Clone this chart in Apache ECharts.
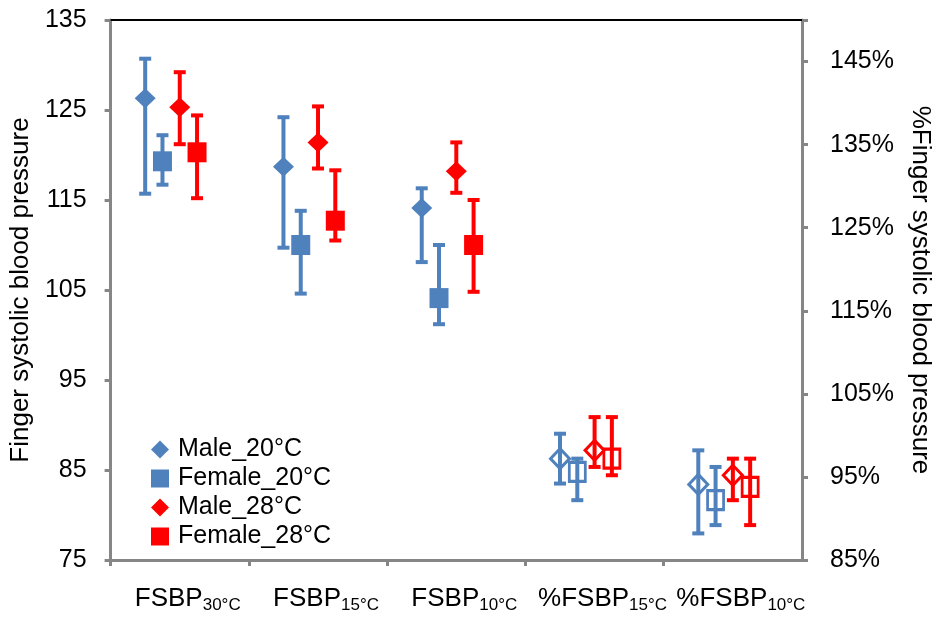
<!DOCTYPE html>
<html>
<head>
    <meta charset="utf-8">
    <title>Finger systolic blood pressure</title>
    <script src="https://cdn.jsdelivr.net/npm/echarts@6/dist/echarts.min.js"></script>
    <style>
        html, body { margin: 0; padding: 0; background: #fff; }
        #main { width: 941px; height: 620px; }
    </style>
</head>
<body>
<div id="main"></div>
<script>
    // categories: first three are mmHg (left axis), last two are % (right axis)
    var categories = ['FSBP|30°C', 'FSBP|15°C', 'FSBP|10°C', '%FSBP|15°C', '%FSBP|10°C'];
    var seriesNames = ['Male_20°C', 'Female_20°C', 'Male_28°C', 'Female_28°C'];

    // mean, lower end and upper end of error bar, per category
    var male20Mean = [126.3, 118.7, 114.1, 97.2, 94.1];
    var male20Low = [115.7, 109.7, 108.1, 94.2, 88.2];
    var male20High = [130.7, 124.2, 116.3, 100.2, 98.2];

    var female20Mean = [119.3, 110.0, 104.1, 95.6, 92.2];
    var female20Low = [116.7, 104.6, 101.2, 92.2, 89.2];
    var female20High = [122.2, 113.8, 110.0, 97.2, 96.2];

    var male28Mean = [125.3, 121.4, 118.2, 98.2, 95.2];
    var male28Low = [121.2, 118.5, 115.8, 96.2, 92.2];
    var male28High = [129.2, 125.4, 121.4, 102.2, 97.2];

    var female28Mean = [120.3, 112.7, 110.0, 97.2, 93.8];
    var female28Low = [115.2, 110.5, 104.8, 95.2, 89.2];
    var female28High = [124.4, 118.3, 115.0, 102.2, 97.2];

    var FONT = '"Liberation Sans", Arial, sans-serif';
    var BLUE = '#4F81BD';
    var RED = '#FF0000';
    var AXIS_GRAY = '#868686';

    var groups = [
        {name: seriesNames[0], mean: male20Mean, low: male20Low, high: male20High, color: BLUE, symbol: 'diamond', offset: -0.25},
        {name: seriesNames[1], mean: female20Mean, low: female20Low, high: female20High, color: BLUE, symbol: 'rect', offset: -0.125},
        {name: seriesNames[2], mean: male28Mean, low: male28Low, high: male28High, color: RED, symbol: 'diamond', offset: 0},
        {name: seriesNames[3], mean: female28Mean, low: female28Low, high: female28High, color: RED, symbol: 'rect', offset: 0.125}
    ];

    function errorBarItem(params, api) {
        var x = api.value(0);
        var lo = api.coord([x, api.value(1)]);
        var hi = api.coord([x, api.value(2)]);
        var w = 6;
        var style = {stroke: api.visual('color'), lineWidth: 4};
        return {
            type: 'group',
            children: [
                {type: 'line', shape: {x1: lo[0], y1: lo[1], x2: hi[0], y2: hi[1]}, style: style},
                {type: 'line', shape: {x1: hi[0] - w, y1: hi[1], x2: hi[0] + w, y2: hi[1]}, style: style},
                {type: 'line', shape: {x1: lo[0] - w, y1: lo[1], x2: lo[0] + w, y2: lo[1]}, style: style}
            ]
        };
    }

    var series = [];
    groups.forEach(function (g) {
        var absPts = [], absBars = [], pctPts = [], pctBars = [];
        for (var i = 0; i < categories.length; i++) {
            var x = i + 1 + g.offset;
            if (i < 3) {
                absPts.push([x, g.mean[i]]);
                absBars.push([x, g.low[i], g.high[i]]);
            } else {
                pctPts.push([x, g.mean[i]]);
                pctBars.push([x, g.low[i], g.high[i]]);
            }
        }
        series.push({
            name: g.name, type: 'custom', xAxisIndex: 1, yAxisIndex: 0,
            renderItem: errorBarItem, itemStyle: {color: g.color}, data: absBars, z: 2, silent: true
        });
        series.push({
            name: g.name, type: 'custom', xAxisIndex: 1, yAxisIndex: 1,
            renderItem: errorBarItem, itemStyle: {color: g.color}, data: pctBars, z: 2, silent: true
        });
        series.push({
            name: g.name, type: 'scatter', xAxisIndex: 1, yAxisIndex: 0,
            symbol: g.symbol, symbolSize: g.symbol === 'diamond' ? [21, 20] : [19, 20],
            itemStyle: {color: g.color, opacity: 1}, data: absPts, z: 3
        });
        series.push({
            name: g.name, type: 'scatter', xAxisIndex: 1, yAxisIndex: 1,
            symbol: g.symbol, symbolSize: g.symbol === 'diamond' ? [19, 20] : [16, 19],
            itemStyle: {color: 'rgba(0,0,0,0)', borderColor: g.color, borderWidth: 3, opacity: 1},
            data: pctPts, z: 3
        });
    });

    var chart = echarts.init(document.getElementById('main'));
    chart.setOption({
        animation: false,
        textStyle: {fontFamily: FONT},
        grid: {left: 110, right: 131, top: 20, bottom: 60},
        legend: {
            orient: 'vertical',
            left: 146,
            top: 430,
            itemWidth: 18,
            itemHeight: 18,
            itemGap: 0,
            textStyle: {fontFamily: FONT, fontSize: 25, color: '#000', lineHeight: 29, padding: [0, 0, 0, 4]},
            data: groups.map(function (g) {
                return {name: g.name, icon: g.symbol, itemStyle: {color: g.color, borderWidth: 0}};
            })
        },
        xAxis: [
            {
                type: 'category',
                data: categories,
                boundaryGap: true,
                axisLine: {lineStyle: {color: AXIS_GRAY, width: 3}},
                axisTick: {show: true, interval: 0, length: 6, lineStyle: {color: AXIS_GRAY, width: 3}},
                axisLabel: {
                    interval: 0,
                    margin: 24,
                    padding: [0, 0, 0, 16],
                    formatter: function (v) {
                        var p = v.split('|');
                        return '{m|' + p[0] + '}{s|' + p[1] + '}';
                    },
                    rich: {
                        m: {fontFamily: FONT, fontSize: 26, color: '#000', lineHeight: 30},
                        s: {fontFamily: FONT, fontSize: 17, color: '#000', lineHeight: 10, verticalAlign: 'bottom'}
                    }
                },
                splitLine: {show: false}
            },
            {
                type: 'value',
                position: 'top',
                min: 0.5,
                max: 5.5,
                axisLine: {show: true, lineStyle: {color: '#000', width: 2}},
                axisTick: {show: false},
                axisLabel: {show: false},
                splitLine: {show: false}
            }
        ],
        yAxis: [
            {
                type: 'value',
                min: 75,
                max: 135,
                interval: 10,
                name: 'Finger systolic blood pressure',
                nameLocation: 'middle',
                nameRotate: 90,
                nameGap: 74,
                nameTextStyle: {fontFamily: FONT, fontSize: 26, color: '#000'},
                axisLine: {show: true, lineStyle: {color: AXIS_GRAY, width: 3}},
                axisTick: {show: true, length: 6, lineStyle: {color: AXIS_GRAY, width: 3}},
                axisLabel: {margin: 24, fontFamily: FONT, fontSize: 25, color: '#000'},
                splitLine: {show: false}
            },
            {
                type: 'value',
                min: 85,
                max: 150,
                interval: 10,
                position: 'right',
                name: '%Finger systolic blood pressure',
                nameLocation: 'middle',
                nameRotate: -90,
                nameGap: 105,
                nameTextStyle: {fontFamily: FONT, fontSize: 26, color: '#000'},
                axisLine: {show: true, lineStyle: {color: AXIS_GRAY, width: 3}},
                axisTick: {show: true, length: 6, lineStyle: {color: AXIS_GRAY, width: 3}},
                axisLabel: {
                    margin: 28, fontFamily: FONT, fontSize: 25, color: '#000',
                    formatter: function (v) { return v >= 150 ? '' : v + '%'; }
                },
                splitLine: {show: false}
            }
        ],
        series: series
    });
</script>
</body>
</html>
